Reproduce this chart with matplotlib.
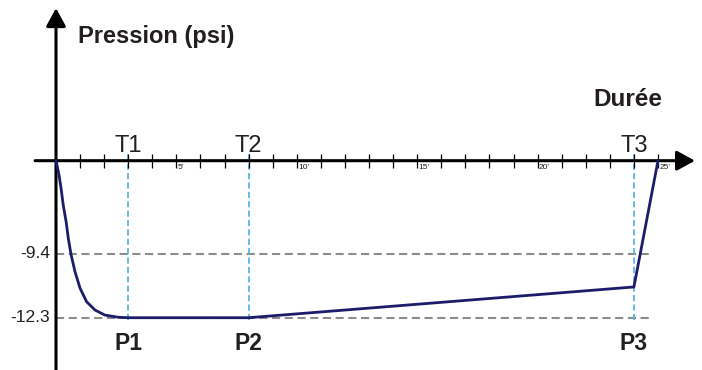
import numpy as np
import matplotlib.pyplot as plt
from matplotlib.patches import FancyArrowPatch

# data
t = [0, 0.125, 0.21, 0.30, 0.42, 0.51, 0.62, 0.79, 1.0, 1.27, 1.62, 2.03, 2.59, 3, 8, 24, 25]
p = [0, -1.44, -2.78, -4.46, -6.14, -7.81, -9.4, -10.21, -10.96, -11.57, -11.95, -12.18, -12.28, -12.3, -12.3, -10.9, 0]
t_marks = [3, 8, 24]
t_names = ['T1', 'T2', 'T3']
p_names = ['P1', 'P2', 'P3']
p_levels = [-9.4, -12.3]
minutes = np.arange(1, 26)
major = [5, 10, 15, 20, 25]

# schematic y scale: 0..-9.4 is stretched differently than -9.4..-12.3
k1, k2 = 93.3 / 9.4, 21.97
def fwd(y):
    y = np.asarray(y, dtype=float)
    return np.where(y >= -9.4, y * k1, -9.4 * k1 + (y + 9.4) * k2)
def inv(v):
    v = np.asarray(v, dtype=float)
    return np.where(v >= -9.4 * k1, v / k1, (v + 9.4 * k1) / k2 - 9.4)

plt.rcParams['font.family'] = ['Liberation Sans', 'DejaVu Sans']
txt = '#231f20'
navy = '#1c1c6b'
blue = '#5ab4e6'
grey = '#8c8c8c'

fig = plt.figure(figsize=(7.02, 3.70), dpi=100)
ax = fig.add_axes([0, 0, 1, 1])
ax.set_yscale('function', functions=(fwd, inv))
ax.set_xlim(-56 / 24.08, (702 - 56) / 24.08)
ax.set_ylim(float(inv(-209.3)), float(inv(160.7)))
ax.axis('off')

# reference lines
ax.hlines(p_levels, 0, 24.7, colors=grey, lw=1.5, linestyles=[(0, (3.9, 2.2))])
ax.vlines(t_marks, -12.4, 0.9, colors=blue, lw=1.3, linestyles=[(0, (3.4, 1.8))])

# axes with arrows
xa = FancyArrowPatch((0.05, 0), (0.99, 0), transform=ax.get_yaxis_transform(),
                     arrowstyle='-|>,head_length=0.55,head_width=0.3', mutation_scale=20,
                     lw=2.2, color='black', shrinkA=0, shrinkB=0, zorder=4)
ya = FancyArrowPatch((0, 0.0), (0, 0.978), transform=ax.get_xaxis_transform(),
                     arrowstyle='-|>,head_length=0.55,head_width=0.3', mutation_scale=20,
                     lw=2.2, color='black', shrinkA=0, shrinkB=0, zorder=4)
ax.add_patch(xa)
ax.add_patch(ya)
ax.plot(minutes, np.zeros(len(minutes)), ls='', marker='|', ms=9.5, mew=0.9, color='black', zorder=4)
for m in major:
    ax.text(m + 0.06, -0.3, f"{m}'", fontsize=6, color=txt, ha='left', va='top')

# curve
ax.plot(t, p, color=navy, lw=2, zorder=5, solid_joinstyle='round')

for x, tn, pn in zip(t_marks, t_names, p_names):
    ax.text(x, 0.88, tn, fontsize=17, color=txt, ha='center', va='baseline')
    ax.text(x, -13.77, pn, fontsize=16.5, fontweight='bold', color=txt, ha='center', va='baseline',
            family=['Liberation Sans Narrow', 'Liberation Sans'])
for v in p_levels:
    ax.text(-0.25, v, f'{v}', fontsize=12.5, color=txt, ha='right', va='center')

ax.text(0.91, 11.86, 'Pression (psi)', fontsize=17, fontweight='bold', color=txt, ha='left', va='baseline')
ax.text(22.3, 5.51, 'Durée', fontsize=17.5, fontweight='bold', color=txt, ha='left', va='baseline')

fig.savefig('out.png', dpi=100)
